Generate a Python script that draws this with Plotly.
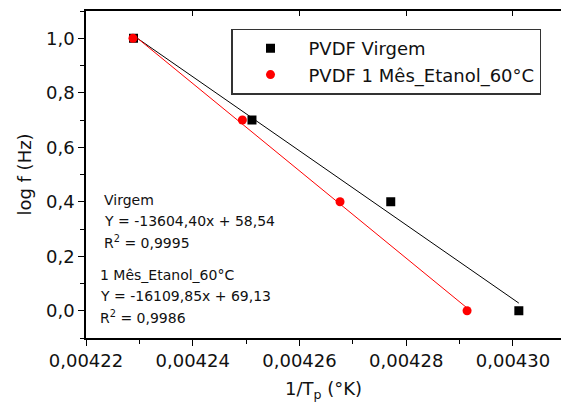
"""
Gráfico de Arrhenius: log f versus 1/Tp para o PVDF virgem e envelhecido.
"""
import numpy as np
import plotly.graph_objects as go

# Dados
x_virgem = [0.0042289, 0.0042511, 0.0042771, 0.0043011]
y_virgem = [1.0, 0.7, 0.4, 0.0]

x_etanol = [0.0042288, 0.0042493, 0.0042676, 0.0042914]
y_etanol = [1.0, 0.7, 0.4, 0.0]

nomes = ["PVDF Virgem", "PVDF 1 Mês_Etanol_60°C"]
cores = ["#000000", "#ff0000"]
simbolos = ["square", "circle"]

texto_virgem = ["Virgem", "Y = -13604,40x + 58,54", "R<sup>2</sup> = 0,9995"]
texto_etanol = ["1 Mês_Etanol_60°C", "Y = -16109,85x + 69,13", "R<sup>2</sup> = 0,9986"]

FONTE = "DejaVu Sans, Arial, sans-serif"

# Geometria do quadro (pixels)
ESQ, DIR, TOPO, BASE = 86, 561, 11, 338


def px_para_papel(px, py):
    """Converte posição em pixels para coordenadas de papel."""
    return (px - ESQ) / (DIR - ESQ), (BASE - py) / (BASE - TOPO)


def criar_grafico():
    fig = go.Figure()

    series = [(x_virgem, y_virgem), (x_etanol, y_etanol)]

    # Retas de ajuste linear (calculadas a partir dos pontos)
    for (xs, ys), cor in zip(series, cores):
        coef = np.polyfit(xs, ys, 1)
        xr = np.array([min(xs), max(xs)])
        fig.add_trace(go.Scatter(
            x=xr, y=np.polyval(coef, xr), mode="lines",
            line=dict(color=cor, width=1), showlegend=False, hoverinfo="skip",
        ))

    # Pontos experimentais
    for (xs, ys), cor, simb, nome in zip(series, cores, simbolos, nomes):
        fig.add_trace(go.Scatter(
            x=xs, y=ys, mode="markers", name=nome,
            marker=dict(color=cor, symbol=simb, size=9),
        ))

    # Traço invisível só para ativar o eixo superior (ticks para dentro)
    fig.add_trace(go.Scatter(
        x=[x_virgem[0]], y=[y_virgem[0]], xaxis="x2", mode="markers",
        marker=dict(opacity=0), showlegend=False, hoverinfo="skip",
    ))

    # Textos com as equações
    anot = []
    for (px, py0), linhas in [((102, 200), texto_virgem), ((98, 275), texto_etanol)]:
        for i, t in enumerate(linhas):
            xp, yp = px_para_papel(px, py0 + i * 21)
            anot.append(dict(
                x=xp, y=yp, xref="paper", yref="paper", text=t,
                xanchor="left", yanchor="middle", showarrow=False,
                font=dict(family=FONTE, size=14, color="#111111"),
            ))

    eixo_x = dict(
        range=[0.00422, 0.004309], tick0=0.00422, dtick=0.00002,
        tickformat=".5f", ticks="outside", ticklen=6, tickwidth=1,
        tickcolor="black", showline=True, linecolor="black", linewidth=1.5,
        showgrid=False, zeroline=False, automargin=False,
        minor=dict(ticks="outside", ticklen=4, dtick=0.00001, tickcolor="black"),
        title=dict(text="1/T<sub>p</sub> (°K)", standoff=12,
                   font=dict(family=FONTE, size=18, color="#111111")),
        tickfont=dict(family=FONTE, size=18, color="#111111"),
    )

    lx, ly = px_para_papel(231, 28.5)

    fig.update_layout(
        width=561, height=408,
        margin=dict(l=ESQ, r=0, t=TOPO, b=408 - BASE, autoexpand=False),
        paper_bgcolor="white", plot_bgcolor="white",
        separators=",.",
        xaxis=eixo_x,
        xaxis2=dict(
            overlaying="x", side="top", matches="x", showticklabels=False,
            ticks="inside", ticklen=5, tickcolor="black", showline=True,
            linecolor="black", linewidth=1.5, showgrid=False, zeroline=False,
            automargin=False,
        ),
        yaxis=dict(
            range=[-0.1, 1.1], tick0=0, dtick=0.2, tickformat=".1f",
            ticks="outside", ticklen=6, tickcolor="black", showline=True,
            linecolor="black", linewidth=1.5, showgrid=False, zeroline=False,
            automargin=False,
            minor=dict(ticks="outside", ticklen=4, dtick=0.1, tickcolor="black"),
            title=dict(text="log f (Hz)", standoff=10,
                       font=dict(family=FONTE, size=18, color="#111111")),
            tickfont=dict(family=FONTE, size=18, color="#111111"),
        ),
        legend=dict(
            x=lx, y=ly, xanchor="left", yanchor="top",
            bordercolor="#333333", borderwidth=1.5, bgcolor="white",
            font=dict(family=FONTE, size=18, color="#111111"),
            itemwidth=66, tracegroupgap=0,
        ),
        annotations=anot,
        showlegend=True,
    )

    return fig


fig = criar_grafico()
# sem margem nem barras de rolagem no <body>: o gráfico ocupa a janela inteira
fig.write_html(
    "out.html",
    config={"displayModeBar": False},
    post_script=(
        "document.body.style.margin='0';"
        "document.body.style.overflow='hidden';"
        "document.documentElement.style.overflow='hidden';"
    ),
)
